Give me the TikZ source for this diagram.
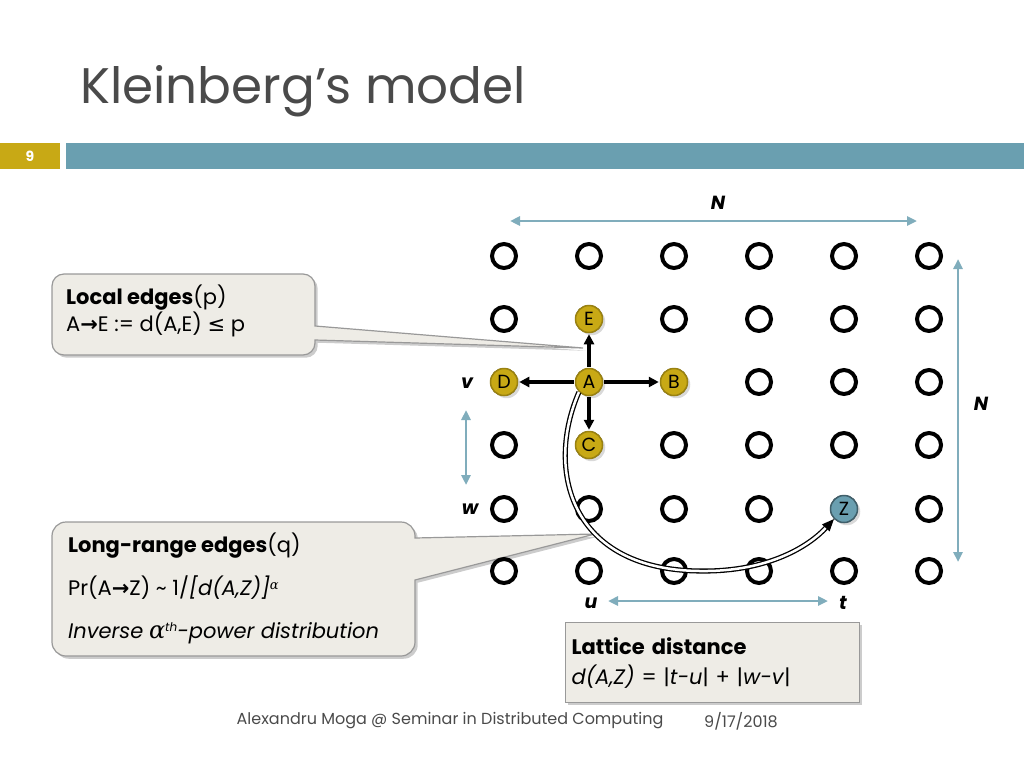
\documentclass[tikz,border=0pt]{standalone}
\usepackage{fontspec}
\setmainfont{Poppins}
\newfontfamily\dejav{DejaVu Sans}
\newfontfamily\grk{DejaVu Serif}
\usetikzlibrary{arrows.meta,shadows,calc}
\definecolor{gold}{HTML}{C8A915}
\definecolor{golddk}{HTML}{9A8210}
\definecolor{teal}{HTML}{6A9FB0}
\definecolor{boxfill}{HTML}{EEECE6}
\definecolor{titlegray}{HTML}{4A4A4A}
\tikzset{
  lat/.style={circle,draw=black,line width=4pt,minimum size=24pt,inner sep=0pt},
  colnode/.style={circle,draw=golddk,fill=gold,line width=1.5pt,minimum size=27pt,inner sep=0pt,font=\fontsize{19}{19}\selectfont,drop shadow={opacity=0.3}},
  local/.style={-{Triangle[length=10pt,width=10pt]},line width=3.2pt,shorten >=1pt,shorten <=1pt},
  dim/.style={{Triangle[length=10pt,width=9pt]}-{Triangle[length=10pt,width=9pt]},teal!85!white,line width=2.6pt},
  callout/.style={fill=boxfill,draw=gray!80,line width=1.2pt,drop shadow={opacity=0.4}},
  lab/.style={font=\fontsize{19}{19}\selectfont\bfseries\itshape},
}
\newcommand{\rarr}{{\dejav\bfseries →}}
\newcommand{\alp}{{\grk\itshape α}}
\begin{document}
\begin{tikzpicture}[x=1pt,y=-1pt]
\useasboundingbox (0,0) rectangle (1024,768);
\node[anchor=base west,text=titlegray,font=\fontsize{50}{50}\selectfont,inner sep=0pt] (title) at (80,103) {Kleinberg’s model};
\fill[gold] (0,143) rectangle (60,169);
\fill[teal] (66,143) rectangle (1024,169);
\node[text=white,font=\fontsize{14}{14}\selectfont\bfseries] (num) at (30,156) {9};
% callouts
\path[callout] (52,286) arc[start angle=180,end angle=270,radius=12] -- (303,274) arc[start angle=-90,end angle=0,radius=12] -- (315,326) -- (583,348) -- (315,340) -- (315,343) arc[start angle=0,end angle=90,radius=12] -- (64,355) arc[start angle=90,end angle=180,radius=12] -- cycle;
\node[anchor=north west,align=left,font=\fontsize{21}{27}\selectfont,inner sep=0pt] (loc) at (66,285) {\textbf{Local edges}(p)\\A\rarr E := d(A,E) {\dejav ≤} p};
\path[callout] (52,536) arc[start angle=180,end angle=270,radius=14] -- (401,522) arc[start angle=-90,end angle=0,radius=14] -- (415,538) -- (595,534) -- (415,580) -- (415,642) arc[start angle=0,end angle=90,radius=14] -- (66,656) arc[start angle=90,end angle=180,radius=14] -- cycle;
\node[anchor=north west,align=left,font=\fontsize{21}{43}\selectfont,inner sep=0pt] (lr) at (68,533) {\textbf{Long-range edges}(q)\\Pr(A\rarr Z) \textasciitilde{} 1/\textit{[d(A,Z)]}\raisebox{6pt}{\fontsize{13}{13}\selectfont\alp}\\\textit{Inverse} {\fontsize{24}{24}\selectfont\alp}\raisebox{7pt}{\fontsize{12}{12}\selectfont\itshape th}\textit{-power distribution}};
% lattice
\foreach \c [count=\i] in {504,589,674,759,844,929}{
  \foreach \r [count=\j] in {256,319,382,445,509,571}{
    \node[lat] (n\i-\j) at (\c,\r) {};
  }
}
\node[colnode] (E) at (589,319) {E};
\node[colnode] (D) at (504,382) {D};
\node[colnode] (A) at (589,382) {A};
\node[colnode] (B) at (674,382) {B};
\node[colnode] (C) at (589,445) {C};
\node[colnode,fill=teal,draw=teal!60!black] (Z) at (844,509) {Z};
\draw[local] (A) -- (E);
\draw[local] (A) -- (D);
\draw[local] (A) -- (B);
\draw[local] (A) -- (C);
\draw[double=white,double distance=2.5pt,line width=1.3pt,-{Triangle[length=12pt,width=10pt]}] (A.225) .. controls (545,470) and (570,570) .. (700,571) .. controls (770,572) and (810,545) .. (Z.225);
% dimensions
\coordinate (t1) at (510,221); \coordinate (t2) at (917,221);
\draw[dim] (t1) -- (t2);
\node[lab] (Nt) at (718,203) {N};
\coordinate (r1) at (958,259); \coordinate (r2) at (958,562);
\draw[dim] (r1) -- (r2);
\node[lab] (Nr) at (981,404) {N};
\node[lab] (v) at (467,383) {v};
\node[lab] (w) at (470,509) {w};
\coordinate (vw1) at (466,410); \coordinate (vw2) at (466,485);
\draw[dim] (vw1) -- (vw2);
\node[lab] (u) at (591,603) {u};
\node[lab] (t) at (843,603) {t};
\coordinate (ut1) at (608,601); \coordinate (ut2) at (828,601);
\draw[dim] (ut1) -- (ut2);
% lattice distance box
\node[callout,anchor=north west,minimum width=293pt,minimum height=80pt,align=left,text width=282pt,inner xsep=6pt,font=\fontsize{21}{30}\selectfont] (ld) at (565,622) {\textbf{Lattice distance}\\\textit{d(A,Z)} = |\textit{t-u}| + |\textit{w-v}|};
% footer
\node[text=titlegray,font=\fontsize{16}{16}\selectfont] (foot) at (450,721) {Alexandru Moga @ Seminar in Distributed Computing};
\node[text=titlegray,font=\fontsize{16}{16}\selectfont] (date) at (741,721) {9/17/2018};
\end{tikzpicture}
\end{document}
